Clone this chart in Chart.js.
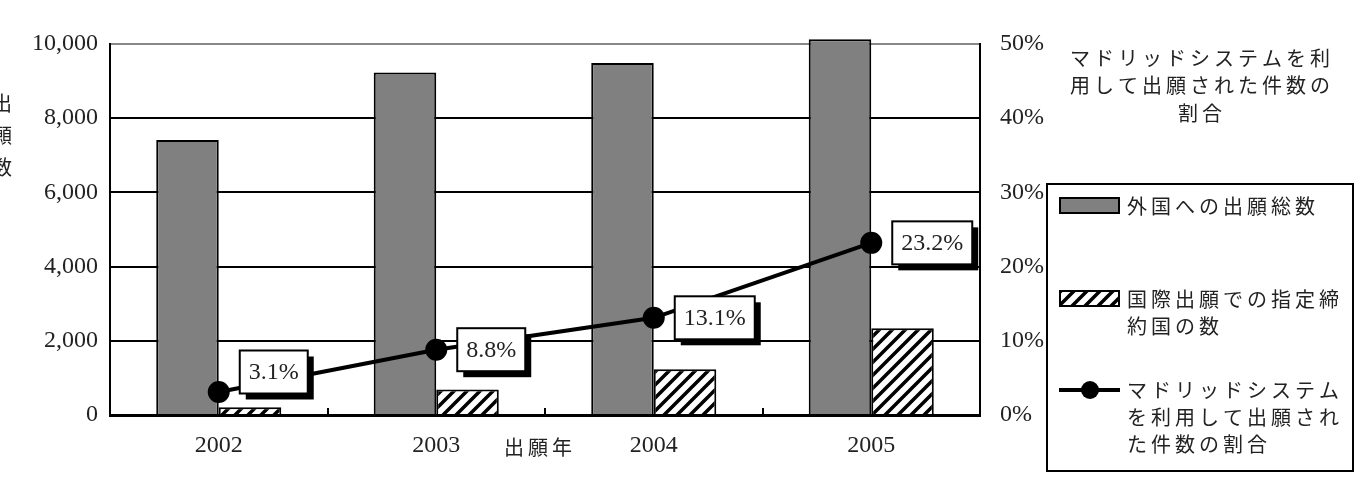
<!DOCTYPE html>
<html lang="ja">
<head>
<meta charset="UTF-8">
<title>マドリッドシステムを利用して出願された件数の割合</title>
<script src="https://cdn.jsdelivr.net/npm/chart.js"></script>
<style>
  body { margin: 0; background: #fff; }
  #wrap { width: 1355px; height: 479px; position: relative; }
</style>
</head>
<body>
<div id="wrap"><canvas id="chart"></canvas></div>
<script>
// data
const years = ['2002', '2003', '2004', '2005'];
const totalApplications = [7410, 9230, 9490, 10130];
const designatedCountries = [210, 690, 1230, 2340];
const madridShare = [3.1, 8.8, 13.1, 23.2];
const seriesNames = ['外国への出願総数', '国際出願での指定締\n約国の数', 'マドリッドシステム\nを利用して出願され\nた件数の割合'];
const sideTitle = ['マドリッドシステムを利', '用して出願された件数の', '割合'];
const yTitle = '出願数';
const xTitle = '出願年';

const NUM_FONT = '24px "Liberation Serif"';
const JP_FONT = '20px "Noto Sans CJK JP"';
const TEXT = '#222';

function makeHatch() {
    const s = 13;
    const c = document.createElement('canvas');
    c.width = s; c.height = s;
    const g = c.getContext('2d');
    g.fillStyle = '#fff';
    g.fillRect(0, 0, s, s);
    g.strokeStyle = '#000';
    g.lineWidth = 3.5;
    g.beginPath();
    g.moveTo(-2, s + 2); g.lineTo(s + 2, -2);
    g.moveTo(-3, 3); g.lineTo(3, -3);
    g.moveTo(s - 3, s + 3); g.lineTo(s + 3, s - 3);
    g.stroke();
    return g.createPattern(c, 'repeat');
}
const hatch = makeHatch();

function jpText(ctx, str, x, y, align) {
    ctx.save();
    ctx.font = JP_FONT;
    ctx.fillStyle = TEXT;
    ctx.letterSpacing = '4px';
    ctx.textAlign = align || 'left';
    ctx.textBaseline = 'middle';
    ctx.fillText(str, align === 'center' ? x + 2 : x, y);
    ctx.restore();
}

// inward x ticks, value boxes, titles and the boxed legend
const extras = {
    id: 'extras',
    afterDatasetsDraw(chart) {
        const ctx = chart.ctx;
        const area = chart.chartArea;
        const step = (area.right - area.left) / years.length;

        ctx.save();
        ctx.strokeStyle = '#000';
        ctx.lineWidth = 2;
        for (let i = 1; i < years.length; i++) {
            const px = Math.round(area.left + step * i);
            ctx.beginPath();
            ctx.moveTo(px, area.bottom);
            ctx.lineTo(px, area.bottom - 7);
            ctx.stroke();
        }

        // labels of the share line
        const shiftY = [-20, 0, 0, 0];
        const meta = chart.getDatasetMeta(2);
        ctx.font = NUM_FONT;
        meta.data.forEach((pt, i) => {
            const txt = madridShare[i].toFixed(1) + '%';
            const w = ctx.measureText(txt).width + 18;
            const h = 43;
            const bx = pt.x + 21;
            const by = pt.y + shiftY[i] - h / 2;
            ctx.fillStyle = '#000';
            ctx.fillRect(bx + 6, by + 6, w, h);
            ctx.fillStyle = '#fff';
            ctx.fillRect(bx, by, w, h);
            ctx.strokeStyle = '#000';
            ctx.lineWidth = 2;
            ctx.strokeRect(bx, by, w, h);
            ctx.fillStyle = TEXT;
            ctx.textAlign = 'center';
            ctx.textBaseline = 'middle';
            ctx.fillText(txt, bx + w / 2, by + h / 2 + 1);
        });
        ctx.restore();
    },
    afterDraw(chart) {
        const ctx = chart.ctx;
        const area = chart.chartArea;

        // vertical y title, partly off the left edge
        yTitle.split('').forEach((ch, i) => jpText(ctx, ch, 2, 103 + i * 32, 'center'));
        jpText(ctx, xTitle, (area.left + area.right) / 2 - 7, 447, 'center');

        sideTitle.forEach((line, i) => jpText(ctx, line, 1200, 58 + i * 27.5, 'center'));

        // legend box
        const lx = 1047, ly = 184;
        ctx.save();
        ctx.strokeStyle = '#000';
        ctx.lineWidth = 2;
        ctx.strokeRect(lx, ly, 306, 287);

        ctx.fillStyle = '#808080';
        ctx.fillRect(lx + 13, 198, 59, 15);
        ctx.strokeRect(lx + 13, 198, 59, 15);
        ctx.fillStyle = hatch;
        ctx.fillRect(lx + 13, 291, 59, 15);
        ctx.strokeRect(lx + 13, 291, 59, 15);

        ctx.lineWidth = 4;
        ctx.beginPath();
        ctx.moveTo(lx + 12, 390);
        ctx.lineTo(lx + 73, 390);
        ctx.stroke();
        ctx.fillStyle = '#000';
        ctx.beginPath();
        ctx.arc(lx + 43, 390, 9, 0, Math.PI * 2);
        ctx.fill();
        ctx.restore();

        const rowsY = [206, 299, 390];
        seriesNames.forEach((name, i) => {
            name.split('\n').forEach((line, j) => jpText(ctx, line, lx + 80, rowsY[i] + j * 27));
        });
    }
};

const ctx = document.getElementById('chart').getContext('2d');
new Chart(ctx, {
    data: {
        labels: years,
        datasets: [
            {
                type: 'bar',
                label: seriesNames[0],
                data: totalApplications,
                backgroundColor: '#808080',
                borderColor: '#000',
                borderWidth: 2,
                yAxisID: 'y',
                clip: false,
                order: 1
            },
            {
                type: 'bar',
                label: seriesNames[1],
                data: designatedCountries,
                backgroundColor: hatch,
                borderColor: '#000',
                borderWidth: 2,
                yAxisID: 'y',
                order: 1
            },
            {
                type: 'line',
                label: seriesNames[2],
                data: madridShare,
                borderColor: '#000',
                borderWidth: 4,
                pointRadius: 9,
                pointBackgroundColor: '#000',
                pointBorderColor: '#000',
                yAxisID: 'y1',
                clip: false,
                order: 0
            }
        ]
    },
    options: {
        responsive: true,
        maintainAspectRatio: false,
        animation: false,
        datasets: {
            bar: { barPercentage: 1.0, categoryPercentage: 0.575 }
        },
        layout: {
            autoPadding: false,
            padding: { top: 44, left: 0, right: 308, bottom: 0 }
        },
        plugins: {
            legend: { display: false },
            tooltip: { enabled: false }
        },
        scales: {
            x: {
                grid: { display: true, drawOnChartArea: false, drawTicks: false },
                border: { display: true, color: '#000', width: 3, z: 1 },
                ticks: { font: { family: 'Liberation Serif', size: 24 }, color: TEXT, padding: 16 },
                afterFit: s => { s.height = 64; }
            },
            y: {
                position: 'left',
                min: 0,
                max: 10000,
                ticks: {
                    stepSize: 2000,
                    padding: 12,
                    font: { family: 'Liberation Serif', size: 24 },
                    color: TEXT,
                    callback: v => v.toLocaleString('en-US')
                },
                grid: {
                    drawTicks: false,
                    lineWidth: 2,
                    color: c => c.tick && c.tick.value === 10000 ? '#888' : '#000'
                },
                border: { display: true, color: '#000', width: 2 },
                afterFit: s => { s.width = 110; }
            },
            y1: {
                position: 'right',
                min: 0,
                max: 50,
                ticks: {
                    stepSize: 10,
                    padding: 20,
                    font: { family: 'Liberation Serif', size: 24 },
                    color: TEXT,
                    callback: v => v + '%'
                },
                grid: { drawOnChartArea: false, drawTicks: false },
                border: { display: true, color: '#000', width: 2 },
                afterFit: s => { s.width = 67; }
            }
        }
    },
    plugins: [extras]
});
</script>
</body>
</html>
